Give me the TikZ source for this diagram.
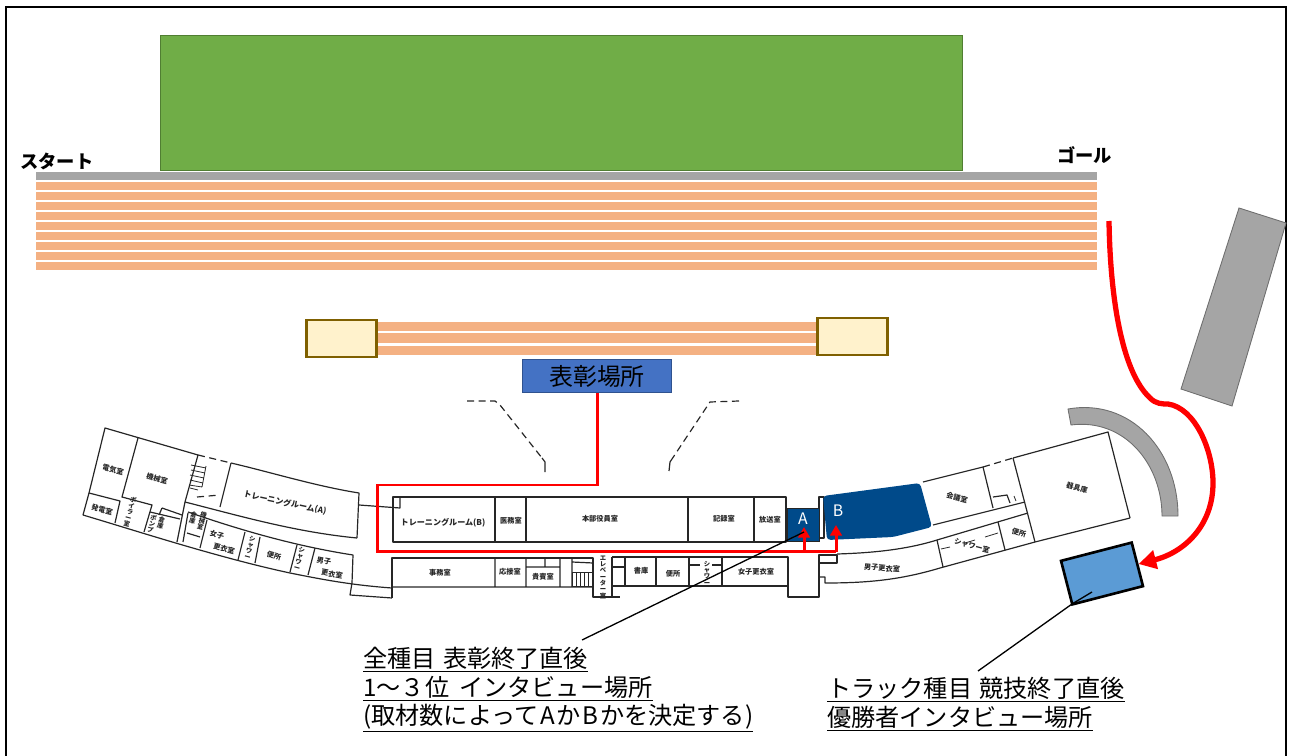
\documentclass[tikz,border=0pt]{standalone}
\usepackage{fontspec}
\setmainfont{Noto Sans CJK JP}
\usetikzlibrary{arrows.meta}
\definecolor{trackc}{HTML}{F4B183}
\definecolor{grayc}{HTML}{A5A5A5}
\definecolor{grayd}{HTML}{6E6E6E}
\definecolor{greenc}{HTML}{70AD47}
\definecolor{greend}{HTML}{507E32}
\definecolor{creamc}{HTML}{FFF2CC}
\definecolor{brownc}{HTML}{7F6000}
\definecolor{hallc}{HTML}{4472C4}
\definecolor{halld}{HTML}{2F528F}
\definecolor{navyc}{HTML}{004A8A}
\definecolor{skyc}{HTML}{5B9BD5}
\newcommand{\fs}[1]{\fontsize{#1}{#1}\selectfont}
\newcommand{\ul}[1]{$\underline{\hbox{#1}}$}
\tikzset{
  x=0.02cm,y=-0.02cm,
  plan/.style={draw=black!85,line width=0.68pt,line join=round},
  thinplan/.style={draw=black!85,line width=0.45pt},
  dashplan/.style={draw=black!85,line width=0.68pt,dash pattern=on 4pt off 2.6pt},
  band/.style={fill=trackc,draw=none},
  redroute/.style={draw=red,line width=1.7pt,line join=miter},
  room/.style={inner sep=0pt,font=\fs{4.1pt}\bfseries,text=black!85,align=center},
  vroom/.style={inner sep=0pt,font=\fs{3.6pt}\bfseries,text=black!85,align=center},
  caption/.style={anchor=base west,inner sep=0pt,font=\fs{13.75pt},text=black},
  lead/.style={draw=black,line width=0.75pt},
}
\begin{document}
\begin{tikzpicture}
\useasboundingbox (0,0) rectangle (1290,756);
% frame
\draw[black,line width=0.9pt] (6,756) -- (6,7) -- (1286,7) -- (1286,756);
% field and straight
\fill[draw=greend,fill=greenc,line width=0.5pt] (160,35) rectangle (962,170);
\fill[grayc] (36,172) rectangle (1097,180);
\foreach \t/\b in {182/190,192/200,202/210,212/220,222/230,232/240,242/250,252/260,262/270}
  \fill[band] (36,\t) rectangle (1097,\b);
\node[anchor=base west,inner sep=0pt,font=\fs{10.4pt}\bfseries] (start) at (20,169) {スタート};
\node[anchor=base west,inner sep=0pt,font=\fs{10.4pt}\bfseries] (goal) at (1057,163) {ゴール};
% warm-up track
\foreach \t/\b in {322/331,333/343,346/355}
  \fill[band] (378,\t) rectangle (816,\b);
\node[draw=brownc,fill=creamc,line width=1.5pt,minimum width=1.41cm,minimum height=0.74cm,inner sep=0pt] (boxl) at (341.5,338.5) {};
\node[draw=brownc,fill=creamc,line width=1.5pt,minimum width=1.41cm,minimum height=0.74cm,inner sep=0pt] (boxr) at (852.5,336.5) {};
% ceremony
\node[draw=halld,fill=hallc,line width=0.6pt,minimum width=2.98cm,minimum height=0.66cm,inner sep=0pt,font=\fs{13.6pt}] (hall) at (597,376) {表彰場所};
% dashed walkways
\draw[dashplan] (467,401) -- (495,401) -- (500,405) -- (542,458);
\draw[plan] (542,458) -- (545,462) -- (545,472);
\draw[dashplan] (739,401) -- (710,402) -- (674,456);
\draw[plan] (674,456) -- (670,462) -- (669,471);
% grey stand and arc
\fill[draw=grayd,fill=grayc,line width=0.5pt] (1239,208) -- (1286,223) -- (1232,406) -- (1181,389) -- cycle;
\fill[draw=grayd,fill=grayc,line width=0.5pt] (1068,409) .. controls (1130,398) and (1178,450) .. (1178,516) -- (1162,516) .. controls (1162,465) and (1125,418) .. (1071,425) -- cycle;
% --- building: left wing
\draw[plan] (89,493) -- (105,428) -- (198,455) -- (185,502) -- (177,542);
\draw[plan] (89,493) -- (83,515) .. controls (140,532) and (220,558) .. (290,573) .. controls (320,579) and (350,585) .. (392,588);
\draw[plan] (138,438) -- (122,497) -- (152,505) -- (144,532);
\draw[plan] (89,493) -- (120,501) -- (115,523);
\draw[plan] (162,508) -- (182,515) (162,508) -- (159,515) (150,512) -- (180,519);
\draw[thinplan] (191,465) -- (206,468) (191,470) -- (205,473) (190,475) -- (204,478) (190,480) -- (203,483) (189,485) -- (202,487) (190,488) -- (198,490) (206,466) -- (202,487);
\draw[dashplan] (198,455) -- (231,463);
\draw[dashplan] (197,497) -- (220,495);
\draw[plan] (231,463) -- (220,507);
\draw[plan] (231,463) .. controls (270,472) and (315,486) .. (359,493) -- (357,538);
\draw[plan] (185,502) .. controls (240,516) and (295,532) .. (357,538);
\draw[plan] (188,512) .. controls (240,530) and (295,546) .. (353,555) -- (352,583) -- (350,595) -- (392,598);
\draw[plan] (188,513) -- (183,542) (207,520) -- (200,548) (245,532) -- (238,560) (260,537) -- (255,563) (297,545) -- (290,572) (315,548) -- (308,575) (187,533) -- (200,537);
% link to training room B
\draw[plan] (359,505) -- (400,508) -- (400,497);
% --- central block upper row
\draw[plan] (393,497) rectangle (786,542);
\draw[plan] (495,497) -- (495,542) (526,497) -- (526,542) (688,497) -- (688,542) (754,497) -- (754,542);
% central block lower row
\draw[plan] (392,598) -- (392,558) -- (593,558) -- (593,597) -- (620,597);
\draw[plan] (392,587) -- (593,587) (495,558) -- (495,587) (526,558) -- (526,587) (560,558) -- (560,587) (526,567) -- (560,567) (545,558) -- (545,567) (572,558) -- (572,587) (572,562) -- (593,563);
\draw[thinplan] (572,572) rectangle (593,586);
\foreach \x in {576,580,584,588} \draw[thinplan] (\x,572) -- (\x,586);
\draw[plan] (612,557) -- (788,557) -- (788,597) -- (819,597) -- (819,555) -- (837,555) -- (837,563) -- (820,563);
\draw[plan] (612,557) -- (612,597) (612,586) -- (788,586) (625,557) -- (625,586) (612,567) -- (625,567) (656,557) -- (656,586) (689,557) -- (689,586) (722,557) -- (722,586) (689,565) -- (700,565) (712,565) -- (722,565);
\draw[plan] (819,577) -- (825,577) -- (825,583) .. controls (867,583) and (900,580) .. (940,568) -- (1035,542) -- (1130,518);
% --- right wing
\draw[plan] (819,497) -- (824,497) -- (824,538) -- (819,538) -- cycle;
\draw[plan] (923,482) -- (983,467);
\draw[dashplan] (983,467) -- (1013,458);
\draw[plan] (1013,458) -- (1108,432) -- (1130,518);
\draw[plan] (1013,458) -- (1035,542);
\draw[plan] (983,467) -- (993,508);
\draw[plan] (933,525) -- (1025,502);
\draw[plan] (837,554) .. controls (870,553) and (905,550) .. (937,540) -- (1028,513);
\draw[plan] (937,540) -- (943,567) (998,522) -- (1005,550);
\draw[plan] (993,497) -- (1007,495) -- (1010,503);
\draw[thinplan] (1014,496) -- (1016,501) (941,549) -- (950,547) (965,543) -- (975,540) (985,537) -- (998,533);
% blue rooms
\node[fill=navyc,draw=black!85,line width=0.4pt,minimum width=0.64cm,minimum height=0.66cm,inner sep=0pt] (roomA) at (803,524.5) {};
\fill[navyc,rounded corners=2pt] (823,496) -- (920,483) -- (932,527) -- (893,537) -- (827,540) -- cycle;
\coordinate (roomB) at (836,520);
\node[inner sep=0pt,text=white,font=\fs{9pt}] (labA) at (803,519) {A};
\node[inner sep=0pt,text=white,font=\fs{9pt}] (labB) at (838,511) {B};
% room labels
\node[room,rotate=-15] (r1) at (113,470) {電気室};
\node[room,rotate=-15] (r2) at (157,479) {機械室};
\node[room,rotate=-15] (r3) at (102,510) {発電室};
\node[vroom,rotate=-15] (r4) at (130,512) {ボ\\イ\\ラ\\ー\\室};
\node[vroom,rotate=-15] (r5) at (152,524) {ポ\\ン\\プ};
\node[vroom,rotate=-15] (r6) at (161,523) {倉\\庫};
\node[room,rotate=-12,font=\fs{4.6pt}\bfseries] (r7) at (285,503) {トレーニングルーム(A)};
\node[vroom,rotate=-15] (r8) at (193,518) {倉\\庫};
\node[vroom,rotate=-15] (r9) at (202,521) {機\\械\\室};
\node[room,rotate=-15] (r10a) at (217,535) {女子};
\node[room,rotate=-15] (r10b) at (224,549) {更衣室};
\node[vroom,rotate=-15] (r11) at (250,548) {シ\\ャ\\ワ\\ー};
\node[room,rotate=-15] (r12) at (274,556) {便所};
\node[vroom,rotate=-15] (r13) at (299.5,559) {シ\\ャ\\ワ\\ー};
\node[room,rotate=-10] (r14a) at (324,561) {男子};
\node[room,rotate=-10] (r14b) at (332,574) {更衣室};
\node[room,font=\fs{4.6pt}\bfseries] (r15) at (443,523) {トレーニングルーム(B)};
\node[room] (r16) at (511,521) {医務室};
\node[room] (r17) at (600,519) {本部役員室};
\node[room] (r18) at (724,519) {記録室};
\node[room] (r19) at (770,520) {放送室};
\node[room] (r20) at (440,573) {事務室};
\node[room] (r21) at (510,572) {応接室};
\node[room] (r22) at (543,577) {貴賓室};
\node[vroom] (r23) at (603,577) {エ\\レ\\ベ\\ー\\タ\\ー\\室};
\node[room] (r24) at (641,571) {書庫};
\node[room] (r25) at (673,574) {便所};
\node[vroom] (r26) at (707,573) {シ\\ャ\\ワ\\ー};
\node[room] (r27) at (756,572) {女子更衣室};
\node[room,rotate=-5] (r28) at (882,568) {男子更衣室};
\node[room,rotate=-15] (r29) at (972,546) {シャワー室};
\node[room,rotate=-15] (r30) at (1019,533) {便所};
\node[room,rotate=-15] (r31) at (957,498) {会議室};
\node[room,rotate=-15] (r32) at (1077,488) {器具庫};
% red routes
\coordinate (hs) at (597,393);
\coordinate (c1) at (597,485);
\coordinate (c2) at (377,485);
\coordinate (c3) at (377,551.5);
\coordinate (ja) at (804,551.5);
\coordinate (ta) at (804,527);
\coordinate (jb) at (836,551.5);
\coordinate (tb) at (836,525);
\draw[redroute] (hs) -- (c1) -- (c2) -- (c3) -- (jb);
\draw[redroute,-{Triangle[length=6pt,width=6.5pt]}] (ja) -- (ta);
\draw[redroute,-{Triangle[length=6pt,width=6.5pt]}] (jb) -- (tb);
% winner box
\node[draw=black,fill=skyc,line width=1.5pt,minimum width=1.46cm,minimum height=0.9cm,inner sep=0pt,rotate=14.5] (winner) at (1102,573.5) {};
% red curve
\coordinate (rs) at (1109,221);
\draw[draw=red,line width=3pt,-{Triangle[length=10pt,width=10.5pt]}] (rs) .. controls (1110,290) and (1120,370) .. (1150,398) .. controls (1156,404) and (1162,404) .. (1168,404) .. controls (1195,408) and (1213,450) .. (1213,483) .. controls (1213,525) and (1185,552) .. (winner.east);
% leader lines
\coordinate (la) at (804,532);
\coordinate (lat) at (582,640);
\draw[lead] (la) -- (lat);
\coordinate (lb) at (1072,604);
\coordinate (lbt) at (978,671);
\draw[lead] (lb) -- (lbt);
\coordinate (lbk) at (1092,592);
\draw[lead] (lb) -- (lbk);
% captions
\node[caption] (c11) at (363,667) {\ul{全種目\hspace{0.3em}表彰終了直後}};
\node[caption] (c12) at (363,696) {\ul{1～３位\hspace{0.42em}インタビュー場所}};
\node[caption] (c13) at (363,724) {\ul{(取材数によって\hspace{0.07em}A\hspace{0.07em}か\hspace{0.07em}B\hspace{0.07em}かを決定する)}};
\node[caption] (c21) at (827,697) {\ul{トラック種目\hspace{0.3em}競技終了直後}};
\node[caption] (c22) at (827,726) {\ul{優勝者インタビュー場所}};
\end{tikzpicture}
\end{document}
